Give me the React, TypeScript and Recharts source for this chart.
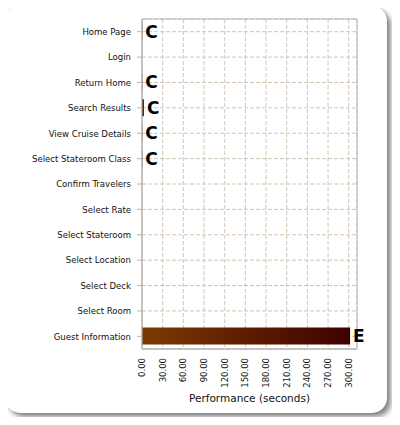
import { BarChart, Bar, XAxis, YAxis, CartesianGrid, LabelList, ReferenceArea } from 'recharts';

const pages = [
  'Home Page', 'Login', 'Return Home', 'Search Results', 'View Cruise Details',
  'Select Stateroom Class', 'Confirm Travelers', 'Select Rate', 'Select Stateroom',
  'Select Location', 'Select Deck', 'Select Room', 'Guest Information',
];
const seconds: (number | null)[] = [0.4, null, 0.4, 2.8, 0.4, 0.4, null, null, null, null, null, null, 302];
const grades = ['C', '', 'C', 'C', 'C', 'C', '', '', '', '', '', '', 'E'];
const xTicks = [0, 30, 60, 90, 120, 150, 180, 210, 240, 270, 300];

const data = pages.map((page, i) => ({ page, seconds: seconds[i], grade: grades[i] }));

const FONT = '"DejaVu Sans Condensed", "DejaVu Sans", sans-serif';
const GRID = '#d3c5b3';
const AXIS = '#b5b5b5';

function YTick({ x, y, payload }: any) {
  return (
    <text x={x} y={y} dy="0.35em" textAnchor="end" fontFamily={FONT} fontSize={9.5} fill="#111">
      {payload.value}
    </text>
  );
}

function XTick({ x, payload }: any) {
  const y = 358;
  return (
    <text x={x} y={y} dy="0.35em" textAnchor="end" transform={`rotate(-90, ${x}, ${y})`}
      fontFamily="DejaVu Sans, sans-serif" fontSize={8.5} fill="#111">
      {payload.value.toFixed(2)}
    </text>
  );
}

function Grade({ x, y, width, height, value }: any) {
  if (!value) return null;
  return (
    <text x={x + width + 3} y={y + height / 2} dy="0.36em" fontFamily="DejaVu Sans, sans-serif"
      fontWeight="bold" fontSize={17} fill="#000">
      {value}
    </text>
  );
}

export default function App() {
  return (
    <div style={{ position: 'relative', width: 400, height: 425, margin: -8, background: '#fff' }}>
      <div style={{
        position: 'absolute', left: 5, top: 6, width: 382, height: 407, borderRadius: 15,
        background: '#fff', boxShadow: '0 0 3px rgba(0,0,0,0.15), 4px 4px 5px rgba(0,0,0,0.45)',
      }} />
      <div style={{ position: 'absolute', left: 0, top: 0 }}>
        <BarChart width={400} height={425} data={data} layout="vertical" barSize={17}
          margin={{ top: 19, right: 43, bottom: 0, left: 0 }}>
          <defs>
            <linearGradient id="barGrad" x1="0" y1="0" x2="1" y2="0">
              <stop offset="0%" stopColor="#7c3a00" />
              <stop offset="100%" stopColor="#3f0000" />
            </linearGradient>
          </defs>
          <CartesianGrid stroke={GRID} strokeDasharray="4 2" />
          <XAxis type="number" domain={[0, 312]} ticks={xTicks} tick={<XTick />} tickLine={false}
            axisLine={{ stroke: AXIS }} height={76} interval={0}
            label={{ value: 'Performance (seconds)', position: 'insideBottom', offset: 23, fill: '#111', fontSize: 10.5, fontFamily: 'DejaVu Sans, sans-serif' }} />
          <YAxis type="category" dataKey="page" width={142} tick={<YTick />} interval={0}
            tickSize={5} tickMargin={6} tickLine={{ stroke: AXIS }} axisLine={{ stroke: AXIS }} />
          <ReferenceArea x1={0} x2={312} fill="none" stroke={AXIS} ifOverflow="visible" />
          <Bar dataKey="seconds" fill="url(#barGrad)" isAnimationActive={false}>
            <LabelList dataKey="grade" content={<Grade />} />
          </Bar>
        </BarChart>
      </div>
    </div>
  );
}
